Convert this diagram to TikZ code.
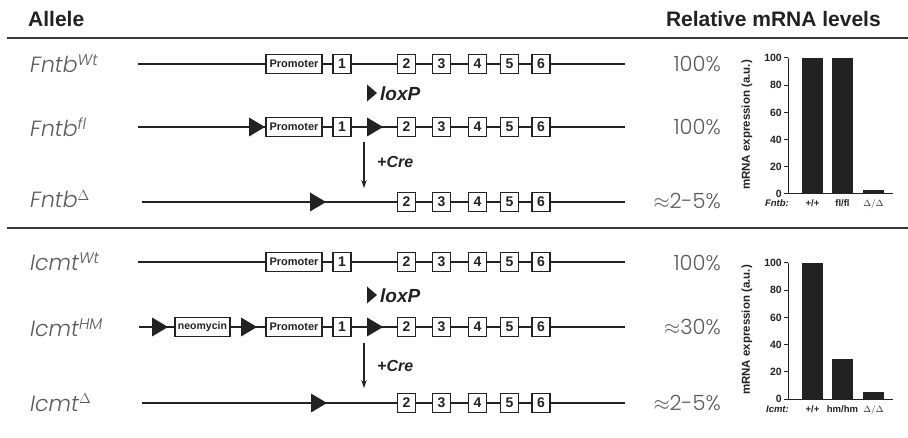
\documentclass[tikz,border=0pt]{standalone}
\usepackage{fontspec}
\setmainfont{Liberation Sans}
\newfontfamily\thinfont{Poppins}[UprightFont={* Light},ItalicFont={* Light Italic}]
\usetikzlibrary{arrows.meta}
\definecolor{ink}{HTML}{222222}
\definecolor{soft}{HTML}{5A5A5A}
\tikzset{
  exon/.style={draw=ink, line width=1.1pt, fill=white, minimum width=18pt,
    minimum height=19pt, inner sep=0pt, text=ink,
    font=\bfseries\fontsize{14}{14}\selectfont},
  wide/.style={exon, minimum width=56pt, font=\bfseries\fontsize{11}{11}\selectfont},
  allele/.style={anchor=base west, inner sep=0pt, text=soft,
    font=\thinfont\itshape\fontsize{22}{22}\selectfont},
  pct/.style={anchor=base east, inner sep=0pt, text=soft,
    font=\thinfont\fontsize{21}{21}\selectfont},
  gene/.style={draw=ink, line width=1.3pt},
  rule/.style={draw=ink!90, line width=1.8pt},
  header/.style={inner sep=0pt, text=ink, font=\bfseries\fontsize{21}{21}\selectfont},
  cre/.style={anchor=west, inner sep=0pt, text=ink,
    font=\bfseries\itshape\fontsize{16}{16}\selectfont},
  tick/.style={anchor=east, inner sep=0pt, text=ink,
    font=\bfseries\fontsize{10.5}{10.5}\selectfont},
  xlab/.style={anchor=base, inner sep=0pt, text=ink,
    font=\bfseries\fontsize{9.5}{9.5}\selectfont},
  ylab/.style={rotate=90, inner sep=0pt, text=ink,
    font=\bfseries\fontsize{11.5}{11.5}\selectfont},
  bar/.style={fill=ink},
  axis/.style={draw=ink, line width=1pt},
  lox/.pic={\fill[ink] (-8,-9.5) -- (8,0) -- (-8,9.5) -- cycle;},
  loxkey/.pic={\fill[ink] (-5,-8.5) -- (5,0) -- (-5,8.5) -- cycle;}
}
\begin{document}
\begin{tikzpicture}[x=1pt,y=-1pt]
\useasboundingbox (0,0) rectangle (908,438);

% headings and rules
\node[header, anchor=base west] (hAllele) at (28,27) {Allele};
\node[header, anchor=base east] (hLevels) at (881,27) {Relative mRNA levels};
\coordinate (r1a) at (7,38);  \coordinate (r1b) at (908,38);
\coordinate (r2a) at (7,228); \coordinate (r2b) at (908,228);
\draw[rule] (r1a) -- (r1b);
\draw[rule] (r2a) -- (r2b);

% ---------------- Fntb ----------------
% wild type
\node[allele] (lFW) at (30,73) {Fntb\textsuperscript{Wt}};
\coordinate (fwA) at (138,64); \coordinate (fwB) at (625,64);
\draw[gene] (fwA) -- (fwB);
\node[wide] (fwP) at (294,64) {Promoter};
\node[exon] (fw1) at (342,64) {1};
\node[exon] (fw2) at (406.5,64) {2};
\node[exon] (fw3) at (441.5,64) {3};
\node[exon] (fw4) at (477.5,64) {4};
\node[exon] (fw5) at (509.5,64) {5};
\node[exon] (fw6) at (541,64) {6};
\node[pct] (pFW) at (721,72) {100\%};

% loxP key
\pic at (372,93) {loxkey};
\node[anchor=west, inner sep=0pt, text=ink, font=\bfseries\itshape\fontsize{19}{19}\selectfont]
  (kLox1) at (380,94) {loxP};

% floxed
\node[allele] (lFF) at (30,137) {Fntb\textsuperscript{fl}};
\coordinate (ffA) at (138,127); \coordinate (ffB) at (625,127);
\draw[gene] (ffA) -- (ffB);
\pic at (257,127) {lox};
\node[wide] (ffP) at (294,127) {Promoter};
\node[exon] (ff1) at (342,127) {1};
\pic at (375,127) {lox};
\node[exon] (ff2) at (406.5,127) {2};
\node[exon] (ff3) at (441.5,127) {3};
\node[exon] (ff4) at (477.5,127) {4};
\node[exon] (ff5) at (509.5,127) {5};
\node[exon] (ff6) at (541,127) {6};
\node[pct] (pFF) at (721,135) {100\%};

% Cre step
\coordinate (fcA) at (364,142); \coordinate (fcB) at (364,188);
\draw[draw=ink, line width=1.1pt, -{Stealth[length=8pt,width=5.5pt]}] (fcA) -- (fcB);
\node[cre] (fCre) at (377,162) {+Cre};

% deleted
\node[allele] (lFD) at (30,208) {Fntb\textsuperscript{$\Delta$}};
\coordinate (fdA) at (142,202); \coordinate (fdB) at (625,202);
\draw[gene] (fdA) -- (fdB);
\pic at (318,202) {lox};
\node[exon] (fd2) at (406.5,202) {2};
\node[exon] (fd3) at (441.5,202) {3};
\node[exon] (fd4) at (477.5,202) {4};
\node[exon] (fd5) at (509.5,202) {5};
\node[exon] (fd6) at (541,202) {6};
\node[pct] (pFD) at (721,209) {$\approx$2-5\%};

% ---------------- Icmt ----------------
\node[allele] (lIW) at (30,271) {Icmt\textsuperscript{Wt}};
\coordinate (iwA) at (138,262); \coordinate (iwB) at (625,262);
\draw[gene] (iwA) -- (iwB);
\node[wide] (iwP) at (294,262) {Promoter};
\node[exon] (iw1) at (342,262) {1};
\node[exon] (iw2) at (406.5,262) {2};
\node[exon] (iw3) at (441.5,262) {3};
\node[exon] (iw4) at (477.5,262) {4};
\node[exon] (iw5) at (509.5,262) {5};
\node[exon] (iw6) at (541,262) {6};
\node[pct] (pIW) at (721,271) {100\%};

% loxP key
\pic at (372,295) {loxkey};
\node[anchor=west, inner sep=0pt, text=ink, font=\bfseries\itshape\fontsize{19}{19}\selectfont]
  (kLox2) at (380,296) {loxP};

% hypomorph
\node[allele] (lIH) at (30,337) {Icmt\textsuperscript{HM}};
\coordinate (ihA) at (139,327); \coordinate (ihB) at (625,327);
\draw[gene] (ihA) -- (ihB);
\pic at (160,327) {lox};
\node[exon, minimum width=55pt, font=\bfseries\fontsize{10.5}{10.5}\selectfont] (ihN) at (202.5,327) {neomycin};
\pic at (249,327) {lox};
\node[wide] (ihP) at (294,327) {Promoter};
\node[exon] (ih1) at (342,327) {1};
\pic at (375,327) {lox};
\node[exon] (ih2) at (406.5,327) {2};
\node[exon] (ih3) at (441.5,327) {3};
\node[exon] (ih4) at (477.5,327) {4};
\node[exon] (ih5) at (509.5,327) {5};
\node[exon] (ih6) at (541,327) {6};
\node[pct] (pIH) at (721,335) {$\approx$30\%};

% Cre step
\coordinate (icA) at (364,343); \coordinate (icB) at (364,388);
\draw[draw=ink, line width=1.1pt, -{Stealth[length=8pt,width=5.5pt]}] (icA) -- (icB);
\node[cre] (iCre) at (377,366) {+Cre};

% deleted
\node[allele] (lID) at (30,411) {Icmt\textsuperscript{$\Delta$}};
\coordinate (idA) at (142,403); \coordinate (idB) at (625,403);
\draw[gene] (idA) -- (idB);
\pic at (319,403) {lox};
\node[exon] (id2) at (406.5,403) {2};
\node[exon] (id3) at (441.5,403) {3};
\node[exon] (id4) at (477.5,403) {4};
\node[exon] (id5) at (509.5,403) {5};
\node[exon] (id6) at (541,403) {6};
\node[pct] (pID) at (721,410) {$\approx$2-5\%};

% ---------------- bar charts ----------------
% Fntb chart: zero at y=194, 100 at y=58
\coordinate (faT) at (788,58); \coordinate (faO) at (788,194); \coordinate (faR) at (893,194);
\fill[bar] (802,194) rectangle (823,58);
\fill[bar] (832,194) rectangle (853,58);
\fill[bar] (863,194) rectangle (884,190);
\draw[axis] (faT) -- (faO) -- (faR);
\foreach \v in {0,20,...,100}{
  \pgfmathsetmacro{\yy}{194-1.36*\v}
  \draw[axis] (784,\yy) -- (788,\yy);
  \node[tick] (ft\v) at (782,\yy) {\v};
}
\node[ylab] (fY) at (747,125) {mRNA expression (a.u.)};
\node[xlab, anchor=base east, font=\bfseries\itshape\fontsize{9.5}{9.5}\selectfont] (fX0) at (789,207) {Fntb:};
\node[xlab] (fX1) at (812.5,207) {+/+};
\node[xlab] (fX2) at (842.5,207) {fl/fl};
\node[xlab, font=\fontsize{9.5}{9.5}\selectfont] (fX3) at (873.5,207) {$\Delta/\Delta$};

% Icmt chart: zero at y=399, 100 at y=263
\coordinate (iaT) at (788,263); \coordinate (iaO) at (788,399); \coordinate (iaR) at (893,399);
\fill[bar] (802,399) rectangle (823,263);
\fill[bar] (832,399) rectangle (853,359);
\fill[bar] (863,399) rectangle (884,392);
\draw[axis] (iaT) -- (iaO) -- (iaR);
\foreach \v in {0,20,...,100}{
  \pgfmathsetmacro{\yy}{399-1.36*\v}
  \draw[axis] (784,\yy) -- (788,\yy);
  \node[tick] (it\v) at (782,\yy) {\v};
}
\node[ylab] (iY) at (747,330) {mRNA expression (a.u.)};
\node[xlab, anchor=base east, font=\bfseries\itshape\fontsize{9.5}{9.5}\selectfont] (iX0) at (789,413) {Icmt:};
\node[xlab] (iX1) at (812.5,413) {+/+};
\node[xlab] (iX2) at (842.5,413) {hm/hm};
\node[xlab, font=\fontsize{9.5}{9.5}\selectfont] (iX3) at (873.5,413) {$\Delta/\Delta$};
\end{tikzpicture}
\end{document}
